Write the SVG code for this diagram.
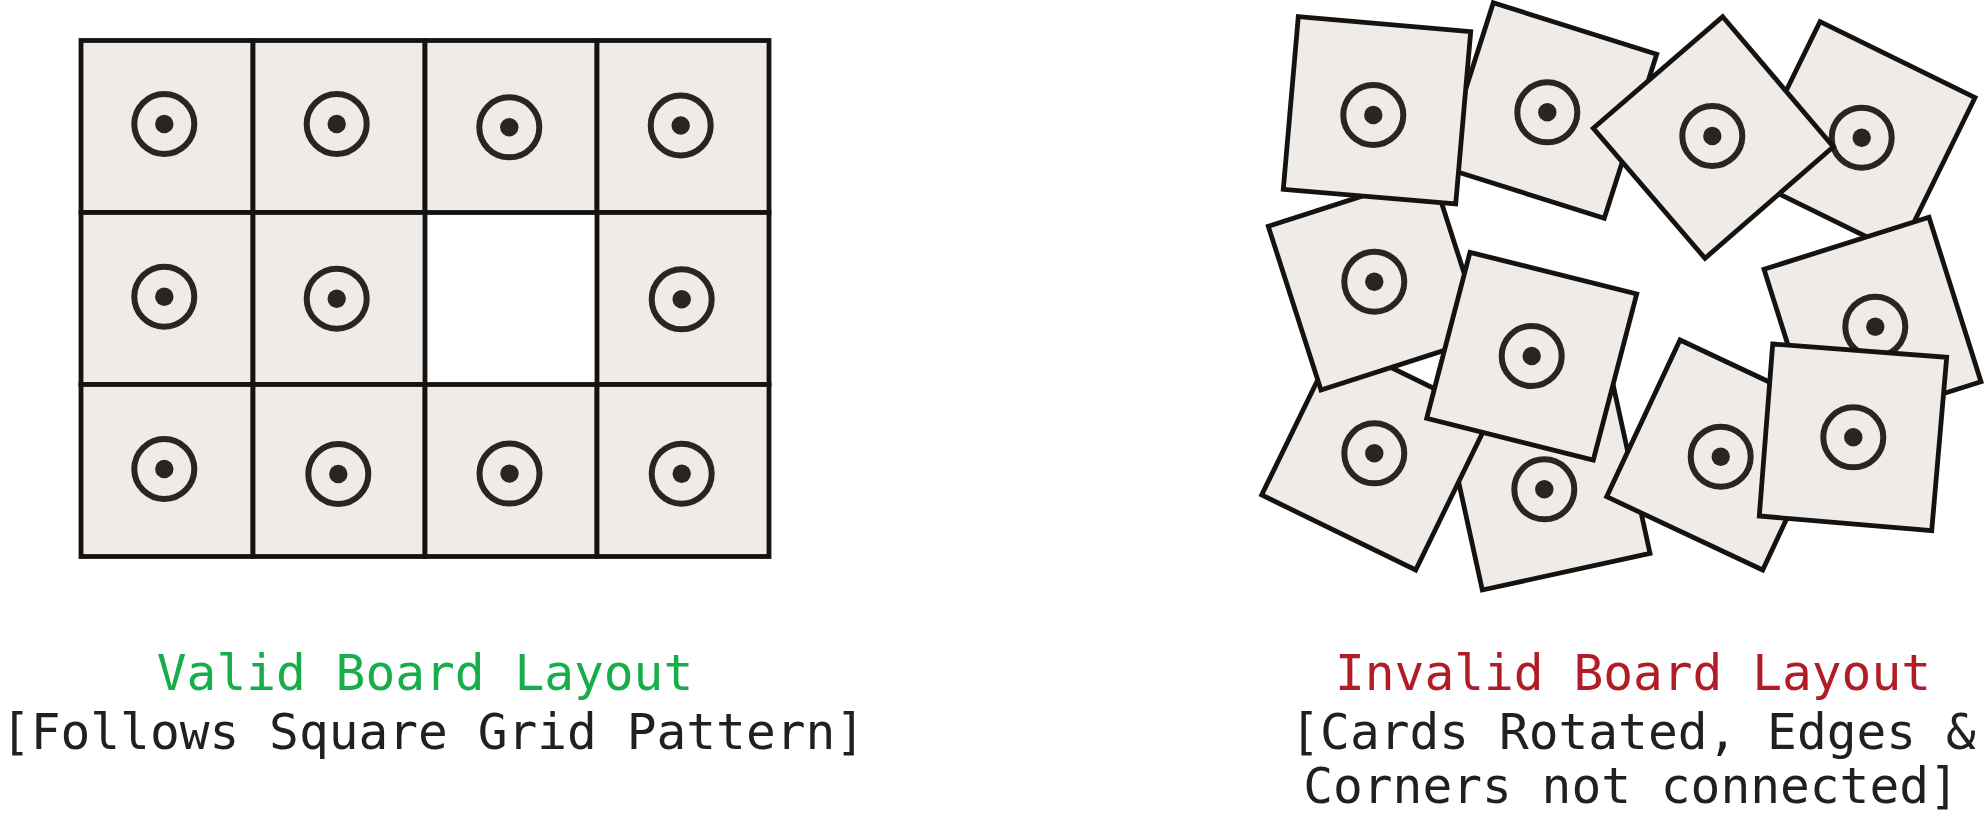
<svg xmlns="http://www.w3.org/2000/svg" width="1984" height="813" viewBox="0 0 1984 813">
<style>
.cell{fill:#efebe8;stroke:#151311;stroke-width:4.8;stroke-linejoin:miter}
.card{fill:#efebe8;stroke:#151311;stroke-width:4.8;stroke-linejoin:miter}
.ring{fill:none;stroke:#2a2521;stroke-width:6}
.dot{fill:#2a2521}
.t{font-family:"DejaVu Sans Mono","Liberation Mono",monospace;font-size:49.5px;text-anchor:middle}
.green{fill:#17ad4a}
.red{fill:#b11d26}
.black{fill:#231f20}
</style>
<defs>
<g id="tok"><circle class="ring" r="30"/><circle class="dot" r="9.2"/></g>
</defs>
<rect width="1984" height="813" fill="#ffffff"/>
<g id="valid-board">
<g id="v-0-0"><rect class="cell" x="81" y="40.5" width="172" height="172"/><use href="#tok" x="164.3" y="124"/></g>
<g id="v-0-1"><rect class="cell" x="253" y="40.5" width="172" height="172"/><use href="#tok" x="336.7" y="124"/></g>
<g id="v-0-2"><rect class="cell" x="425" y="40.5" width="172" height="172"/><use href="#tok" x="509.3" y="127.3"/></g>
<g id="v-0-3"><rect class="cell" x="597" y="40.5" width="172" height="172"/><use href="#tok" x="680.7" y="125.5"/></g>
<g id="v-1-0"><rect class="cell" x="81" y="212.5" width="172" height="172"/><use href="#tok" x="164.3" y="296.7"/></g>
<g id="v-1-1"><rect class="cell" x="253" y="212.5" width="172" height="172"/><use href="#tok" x="336.7" y="298.7"/></g>
<g id="v-1-3"><rect class="cell" x="597" y="212.5" width="172" height="172"/><use href="#tok" x="681.7" y="299.3"/></g>
<g id="v-2-0"><rect class="cell" x="81" y="384.5" width="172" height="172"/><use href="#tok" x="164.3" y="469"/></g>
<g id="v-2-1"><rect class="cell" x="253" y="384.5" width="172" height="172"/><use href="#tok" x="338.3" y="474"/></g>
<g id="v-2-2"><rect class="cell" x="425" y="384.5" width="172" height="172"/><use href="#tok" x="509.5" y="473.6"/></g>
<g id="v-2-3"><rect class="cell" x="597" y="384.5" width="172" height="172"/><use href="#tok" x="681.7" y="473.7"/></g>
</g>
<g id="invalid-board">
<g id="card-i"><polygon class="card" points="1445.6,422.3 1613.3,385.6 1650,553.3 1482.3,590"/><use href="#tok" x="1544.3" y="489.3"/></g>
<g id="card-h"><polygon class="card" points="1336.7,341 1490.7,416 1415.7,570 1261.7,495"/><use href="#tok" x="1374.3" y="453.3"/></g>
<g id="card-e"><polygon class="card" points="1268.3,226.4 1432.1,173.6 1484.8,337.4 1321,390"/><use href="#tok" x="1374.3" y="281.7"/></g>
<g id="card-b"><polygon class="card" points="1493.3,2.7 1656.7,54.3 1604.3,218.3 1440.9,166.7"/><use href="#tok" x="1547.3" y="112.3"/></g>
<g id="card-a"><polygon class="card" points="1298.3,16.7 1470.7,31.7 1455.7,204 1283.3,189.3"/><use href="#tok" x="1373.3" y="115"/></g>
<g id="card-d"><polygon class="card" points="1820,21.7 1975,97.7 1899,252.7 1744,176.7"/><use href="#tok" x="1861.7" y="137.7"/></g>
<g id="card-c"><polygon class="card" points="1722.7,16.7 1833.3,146.7 1705,258.3 1593.3,128.3"/><use href="#tok" x="1712.3" y="136"/></g>
<g id="card-g"><polygon class="card" points="1764,269.3 1929,217.3 1981,381.7 1816,433.7"/><use href="#tok" x="1875.3" y="326.7"/></g>
<g id="card-f"><polygon class="card" points="1470,252.3 1636.7,294 1593.3,460 1426.7,418.3"/><use href="#tok" x="1531.7" y="356"/></g>
<g id="card-j"><polygon class="card" points="1680,340 1836,413.3 1762.7,570 1606.7,496.7"/><use href="#tok" x="1720.7" y="456.7"/></g>
<g id="card-k"><polygon class="card" points="1772.7,344 1946.7,357.3 1931.7,530.7 1759.3,516"/><use href="#tok" x="1853.3" y="437.3"/></g>
</g>
<g id="connectors"/>
<g id="labels">
<text class="t green" x="425" y="690">Valid Board Layout</text>
<text class="t black" x="433" y="749">[Follows Square Grid Pattern]</text>
<text class="t red" x="1633" y="690">Invalid Board Layout</text>
<text class="t black" x="1633" y="749">[Cards Rotated, Edges &amp;</text>
<text class="t black" x="1631" y="803">Corners not connected]</text>
</g>
</svg>
